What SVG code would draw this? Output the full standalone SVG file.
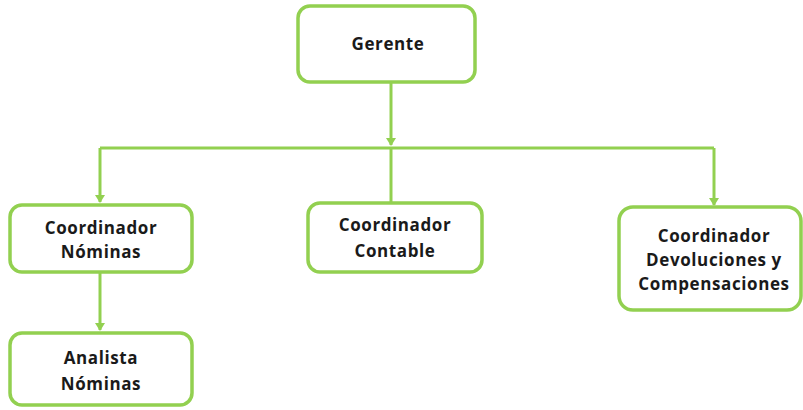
<svg xmlns="http://www.w3.org/2000/svg" width="803" height="410" viewBox="0 0 803 410">
<style>
.box{fill:#fff;stroke:#92D050;stroke-width:3.5}
.lbl{font-family:"Open Sans","Liberation Sans",sans-serif;font-weight:700;font-size:17px;letter-spacing:0.6px;fill:#1a1a1a;text-anchor:middle}
.con{fill:none;stroke:#92D050;stroke-width:3}
</style>
<defs>
<marker id="ah" markerWidth="10" markerHeight="10" refX="7" refY="5" orient="auto" markerUnits="userSpaceOnUse">
<path d="M0,0 L8,5 L0,10 Z" fill="#92D050"/>
</marker>
</defs>
<rect width="803" height="410" fill="#fff"/>
<g id="connectors">
<path class="con" d="M391,82 V145" marker-end="url(#ah)"/>
<path class="con" d="M100,148 H714"/>
<path class="con" d="M391,148 V202"/>
<path class="con" d="M100,148 V202" marker-end="url(#ah)"/>
<path class="con" d="M714,148 V205" marker-end="url(#ah)"/>
<path class="con" d="M100,272 V330" marker-end="url(#ah)"/>
</g>
<g id="gerente">
<rect class="box" x="298" y="6" width="177" height="76" rx="12"/>
<text class="lbl" x="388" y="50">Gerente</text>
</g>
<g id="coord-nominas">
<rect class="box" x="10" y="205" width="182" height="67" rx="12"/>
<text class="lbl" x="101" y="234">Coordinador</text>
<text class="lbl" x="101" y="258">Nóminas</text>
</g>
<g id="coord-contable">
<rect class="box" x="308" y="203" width="174" height="69" rx="12"/>
<text class="lbl" x="395" y="231">Coordinador</text>
<text class="lbl" x="395" y="257">Contable</text>
</g>
<g id="coord-devoluciones">
<rect class="box" x="619" y="207" width="182" height="103" rx="14"/>
<text class="lbl" x="714" y="242">Coordinador</text>
<text class="lbl" x="714" y="266">Devoluciones y</text>
<text class="lbl" x="714" y="290">Compensaciones</text>
</g>
<g id="analista-nominas">
<rect class="box" x="10" y="333" width="182" height="72" rx="12"/>
<text class="lbl" x="101" y="364">Analista</text>
<text class="lbl" x="101" y="390">Nóminas</text>
</g>
</svg>
